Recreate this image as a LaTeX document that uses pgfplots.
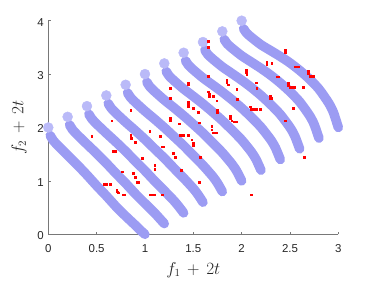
\documentclass[border=0pt]{standalone}
\usepackage{fontspec}
\setmainfont{Liberation Sans}
\usepackage{pgfplots}
\pgfplotsset{compat=1.18}
\usetikzlibrary{calc}
\definecolor{band}{RGB}{156,156,243}
\definecolor{bandlight}{RGB}{186,186,248}
\definecolor{axgray}{RGB}{120,120,120}
\definecolor{txtgray}{RGB}{38,38,38}
\begin{document}
\begin{tikzpicture}
\begin{axis}[
  scale only axis, width=290bp, height=213.6bp,
  xmin=0, xmax=3, ymin=0, ymax=4,
  axis x line*=bottom, axis y line*=left,
  axis line style={axgray, line width=0.5bp},
  xtick={0,0.5,1,1.5,2,2.5,3}, ytick={0,1,2,3,4},
  xticklabels={0,0.5,1,1.5,2,2.5,3},
  yticklabels={0,1,2,3,4},
  tick align=inside, major tick length=2.5bp,
  tick style={axgray, line width=0.5bp},
  xticklabel style={font=\fontsize{11.5}{13}\selectfont, text=txtgray, yshift=-6.9bp},
  yticklabel style={font=\fontsize{11.5}{13}\selectfont, text=txtgray, xshift=-1bp, yshift=-1.5bp},
  /pgf/number format/assume math mode=true,
  clip=false,
  xlabel={$f_1\,+\,2t$}, ylabel={$f_2\,+\,2t$},
  xlabel style={font=\fontsize{16}{19}\selectfont, text=txtgray, at={(axis description cs:0.5,-0.1873)}, anchor=base},
  ylabel style={font=\fontsize{16}{19}\selectfont, text=txtgray, at={(axis description cs:-0.0862,0.5)}, anchor=base},
]
% start points (single lighter markers)
\addplot[only marks, mark=*, mark size=5bp, bandlight, mark options={draw=none, fill=bandlight}] coordinates {
(0,2)(0.2,2.2)(0.4,2.4)(0.6,2.6)(0.8,2.8)(1.0,3.0)(1.2,3.2)(1.4,3.4)(1.6,3.6)(1.8,3.8)(2.0,4.0)};
\addplot[band, line width=9.5bp, line cap=round, line join=round, smooth, tension=0.4] coordinates {
(0.02,1.85)(0.05,1.76)(0.1,1.66)(0.2,1.48)(0.3,1.30)(0.4,1.11)(0.5,0.91)(0.6,0.72)(0.7,0.52)(0.8,0.34)(0.9,0.17)(0.95,0.08)(1,0)};
\addplot[band, line width=9.5bp, line cap=round, line join=round, smooth, tension=0.4] coordinates {
(0.22,2.05)(0.25,1.961)(0.3,1.863)(0.4,1.687)(0.5,1.514)(0.6,1.332)(0.7,1.14)(0.8,0.955)(0.9,0.759)(1.0,0.578)(1.1,0.399)(1.15,0.30)(1.2,0.2)};
\addplot[band, line width=9.5bp, line cap=round, line join=round, smooth, tension=0.4] coordinates {
(0.42,2.25)(0.45,2.162)(0.5,2.066)(0.6,1.894)(0.7,1.728)(0.8,1.554)(0.9,1.37)(1.0,1.19)(1.1,0.998)(1.2,0.816)(1.3,0.628)(1.35,0.52)(1.4,0.4)};
\addplot[band, line width=9.5bp, line cap=round, line join=round, smooth, tension=0.4] coordinates {
(0.62,2.45)(0.65,2.363)(0.7,2.269)(0.8,2.101)(0.9,1.942)(1.0,1.776)(1.1,1.6)(1.2,1.425)(1.3,1.237)(1.4,1.054)(1.5,0.857)(1.55,0.74)(1.6,0.6)};
\addplot[band, line width=9.5bp, line cap=round, line join=round, smooth, tension=0.4] coordinates {
(0.82,2.65)(0.85,2.564)(0.9,2.472)(1.0,2.308)(1.1,2.156)(1.2,1.998)(1.3,1.83)(1.4,1.66)(1.5,1.476)(1.6,1.292)(1.7,1.086)(1.75,0.96)(1.8,0.8)};
\addplot[band, line width=9.5bp, line cap=round, line join=round, smooth, tension=0.4] coordinates {
(1.02,2.85)(1.05,2.765)(1.1,2.675)(1.2,2.515)(1.3,2.37)(1.4,2.22)(1.5,2.06)(1.6,1.895)(1.7,1.715)(1.8,1.53)(1.9,1.315)(1.95,1.18)(2.0,1.0)};
\addplot[band, line width=9.5bp, line cap=round, line join=round, smooth, tension=0.4] coordinates {
(1.22,3.05)(1.25,2.966)(1.3,2.878)(1.4,2.722)(1.5,2.584)(1.6,2.442)(1.7,2.29)(1.8,2.13)(1.9,1.954)(2.0,1.768)(2.1,1.544)(2.15,1.40)(2.2,1.2)};
\addplot[band, line width=9.5bp, line cap=round, line join=round, smooth, tension=0.4] coordinates {
(1.42,3.25)(1.45,3.167)(1.5,3.081)(1.6,2.929)(1.7,2.798)(1.8,2.664)(1.9,2.52)(2.0,2.365)(2.1,2.193)(2.2,2.006)(2.3,1.773)(2.35,1.62)(2.4,1.4)};
\addplot[band, line width=9.5bp, line cap=round, line join=round, smooth, tension=0.4] coordinates {
(1.62,3.45)(1.65,3.368)(1.7,3.284)(1.8,3.136)(1.9,3.012)(2.0,2.886)(2.1,2.75)(2.2,2.6)(2.3,2.432)(2.4,2.244)(2.5,2.002)(2.55,1.84)(2.6,1.6)};
\addplot[band, line width=9.5bp, line cap=round, line join=round, smooth, tension=0.4] coordinates {
(1.82,3.65)(1.85,3.569)(1.9,3.487)(2.0,3.343)(2.1,3.226)(2.2,3.108)(2.3,2.98)(2.4,2.835)(2.5,2.671)(2.6,2.482)(2.7,2.231)(2.75,2.06)(2.8,1.8)};
\addplot[band, line width=9.5bp, line cap=round, line join=round, smooth, tension=0.4] coordinates {
(2.02,3.85)(2.05,3.77)(2.1,3.69)(2.2,3.55)(2.3,3.44)(2.4,3.33)(2.5,3.21)(2.6,3.07)(2.7,2.91)(2.8,2.72)(2.9,2.46)(2.95,2.28)(3.0,2.0)};
% population points
\addplot[only marks, mark=square*, mark size=0.85bp, red, mark options={draw=none, fill=red}] coordinates {
(0.448,1.84)(0.655,2.13)(0.852,2.32)
(0.576,0.94)(0.600,0.94)(0.638,0.94)
(0.672,1.55)(0.69,1.55)
(0.707,0.83)(0.712,0.80)(0.72,0.78)
(0.766,1.17)(0.776,0.74)(0.790,0.74)
(0.852,1.86)(0.855,1.80)(0.897,1.72)
(0.879,1.14)(0.897,1.07)(0.914,0.97)(0.93,0.97)
(0.966,1.42)(0.975,1.42)
(1.05,0.74)(1.075,0.74)(1.10,0.74)
(1.05,1.93)
(1.10,1.29)(1.10,1.22)
(1.155,1.84)(1.172,1.64)(1.185,1.64)
(1.18,0.74)
(1.259,2.73)(1.259,2.55)(1.259,2.17)(1.259,2.13)
(1.293,1.52)(1.31,1.45)
(1.352,2.07)
(1.362,1.86)(1.38,1.86)(1.397,1.86)(1.448,1.86)
(1.372,1.20)
(1.448,2.84)(1.448,2.80)
(1.448,2.48)(1.448,2.43)(1.448,2.39)
(1.5,2.36)
(1.483,1.77)(1.5,1.67)(1.5,1.71)
(1.552,2.28)(1.559,2.09)(1.559,0.97)(1.569,1.45)
(1.655,3.61)(1.655,3.51)(1.655,2.96)
(1.655,2.67)(1.662,2.62)(1.662,2.58)(1.707,2.58)
(1.69,2.02)(1.69,1.96)(1.707,1.90)(1.725,1.90)(1.74,1.90)
(1.741,2.50)(1.75,2.33)(1.75,2.29)
(1.845,2.89)(1.845,2.85)(1.862,2.80)
(1.88,2.22)(1.88,2.17)(1.897,2.13)(1.92,2.11)(1.948,2.11)
(1.948,2.72)(1.955,2.53)
(2.045,3.08)(2.045,3.04)(2.052,3.00)
(2.086,2.39)(2.10,2.34)(2.12,2.34)(2.15,2.34)(2.19,2.34)
(2.10,0.74)
(2.148,2.84)(2.155,2.73)
(2.259,3.23)(2.259,3.19)(2.31,3.20)
(2.293,2.58)(2.293,2.55)(2.31,2.55)
(2.362,2.95)(2.38,2.95)
(2.448,3.45)(2.448,3.40)(2.448,2.13)
(2.483,2.83)(2.483,2.79)(2.5,2.75)(2.53,2.75)(2.55,2.75)(2.638,2.75)
(2.55,3.14)(2.57,3.14)(2.586,3.14)
(2.534,2.36)(2.648,1.45)
(2.69,3.05)(2.69,3.01)(2.707,2.96)(2.725,2.96)(2.741,2.96)
};
\end{axis}
\path ($(current axis.south west)+(-48.3bp,-45.7bp)$) rectangle ($(current axis.north east)+(35.7bp,20.7bp)$);
\end{tikzpicture}
\end{document}
